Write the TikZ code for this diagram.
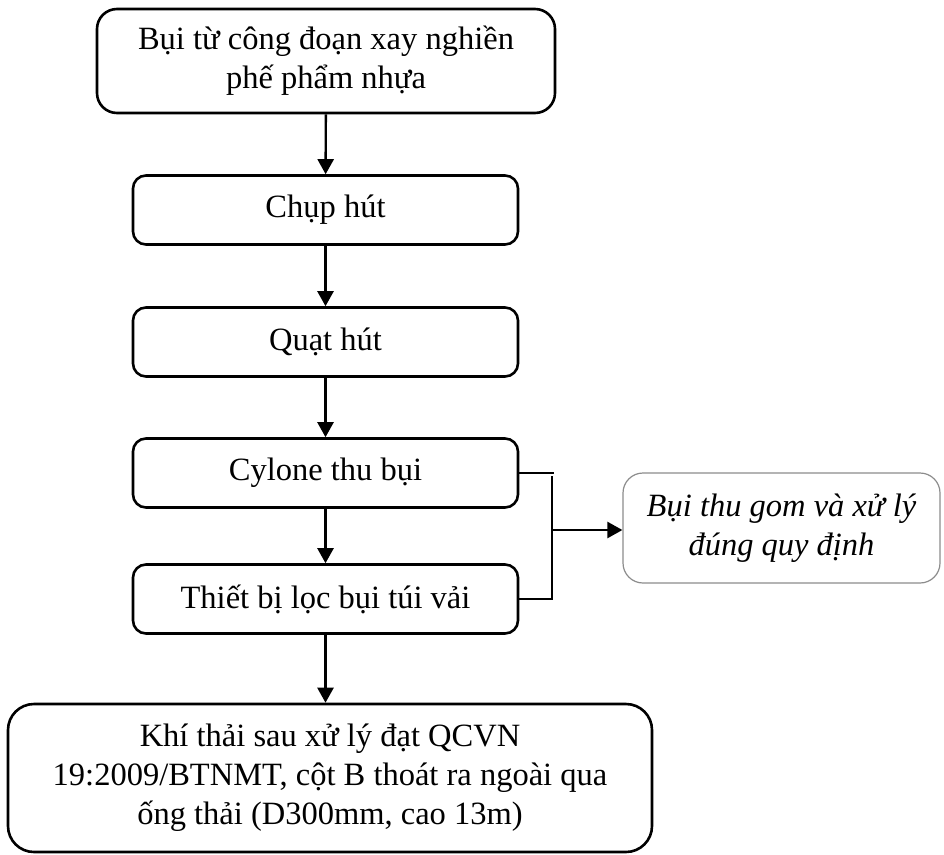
\documentclass[tikz,border=0pt]{standalone}
\usepackage{fontspec}
\setmainfont{Liberation Serif}
\usetikzlibrary{arrows.meta}

\begin{document}
\begin{tikzpicture}[x=1pt,y=-1pt,
  txt/.style={align=center, inner sep=0pt, font=\fontsize{32.5}{39}\selectfont},
  box/.style={txt, draw, line width=2.6pt, rounded corners=13pt,
    minimum width=385pt, minimum height=69pt},
  note/.style={txt, draw=black!45, line width=1.2pt, rounded corners=20pt,
    font=\fontsize{32.5}{39}\selectfont\itshape},
  wire/.style={line width=2.4pt},
  flow/.style={wire, -{Triangle[length=15pt,width=16pt]}}]
\useasboundingbox (0,0) rectangle (944,854);

% main treatment chain
\node[box, minimum width=458pt, minimum height=104pt, rounded corners=20pt]
  (src) at (326,61) {Bụi từ công đoạn xay nghiền\\phế phẩm nhựa};
\node[box] (hood) at (325.5,210) {Chụp hút};
\node[box] (fan)  at (325.5,342) {Quạt hút};
\node[box] (cyc)  at (325.5,473) {Cylone thu bụi};
\node[box] (bag)  at (325.5,599) {Thiết bị lọc bụi túi vải};
\node[box, minimum width=644pt, minimum height=148pt, rounded corners=26pt]
  (out) at (330,778) {Khí thải sau xử lý đạt QCVN\\19:2009/BTNMT, cột B thoát ra ngoài qua\\ống thải (D300mm, cao 13m)};

% collected dust
\node[note, minimum width=317pt, minimum height=110pt]
  (dust) at (781.5,528) {Bụi thu gom và xử lý\\đúng quy định};

\draw[flow] (src) -- (hood);
\draw[flow] (hood) -- (fan);
\draw[flow] (fan) -- (cyc);
\draw[flow] (cyc) -- (bag);
\draw[flow] (bag.south) -- (bag.south |- out.north);

% bracket joining both separators
\coordinate (jt) at (552,476);
\coordinate (jb) at (552,599);
\coordinate (jm) at (552,530);
\draw[wire] (cyc.east) -- ++(35,0);
\draw[wire] (bag.east) -- (jb) -- (jt);
\draw[flow] (jm) -- (jm -| dust.west);
\end{tikzpicture}
\end{document}
